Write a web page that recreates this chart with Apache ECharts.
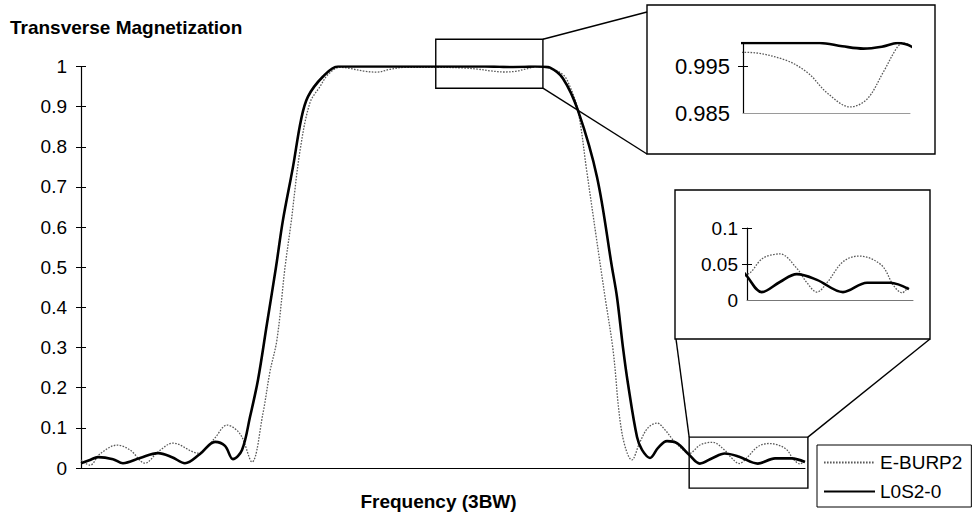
<!DOCTYPE html>
<html>
<head>
<meta charset="utf-8">
<script src="https://cdn.jsdelivr.net/npm/echarts@6/dist/echarts.min.js"></script>
<style>
  html, body { margin: 0; padding: 0; background: #fff; }
  #chart { width: 972px; height: 514px; }
</style>
</head>
<body>
<div id="chart"></div>
<script>
// Frequency axis runs 0..100 across the plotted band (3BW)
const eburp2Freq = [0, 1.24, 2.62, 4.97, 6.77, 8.84, 10.64, 12.71, 15.47, 16.16, 17.54, 18.51, 20.17, 21.27, 22.24, 23.62, 25.14, 26.10, 27.07, 28.18, 29.01, 30.25, 31.63, 33.01, 34.12, 35.77, 37.15, 39.23, 40.88, 42.68, 44.75, 49.21, 52.57, 54.70, 56.46, 58.51, 60.0, 61.42, 62.67, 63.19, 64.36, 66.57, 67.54, 68.65, 69.89, 71.13, 72.38, 73.48, 74.72, 76.10, 77.21, 78.31, 79.56, 80.66, 81.77, 82.87, 83.98, 85.57, 87.25, 88.92, 89.92, 90.91, 91.90, 93.48, 95.0, 96.16, 97.45, 98.44, 99.32, 100];
const eburp2Mag = [0.02, 0.007, 0.035, 0.057, 0.045, 0.012, 0.04, 0.062, 0.04, 0.037, 0.055, 0.075, 0.107, 0.098, 0.077, 0.015, 0.137, 0.24, 0.32, 0.5, 0.61, 0.79, 0.91, 0.95, 0.98, 0.998, 0.995, 0.988, 0.986, 0.993, 0.998, 0.998, 0.9965, 0.9937, 0.9893, 0.9863, 0.988, 0.9937, 0.9991, 1.0, 0.998, 0.98, 0.95, 0.89, 0.735, 0.58, 0.426, 0.295, 0.087, 0.02, 0.065, 0.1, 0.112, 0.095, 0.07, 0.05, 0.036, 0.058, 0.064, 0.044, 0.024, 0.011, 0.024, 0.053, 0.061, 0.058, 0.046, 0.021, 0.01, 0.02];

const l0s2Freq = [0, 1.24, 2.35, 4.42, 5.80, 8.15, 10.64, 12.57, 14.36, 16.44, 18.51, 19.89, 20.99, 22.24, 23.34, 24.45, 25.69, 26.93, 27.90, 29.28, 30.39, 31.35, 33.43, 35.50, 40, 48.07, 52, 55.80, 57.8, 59.67, 61.3, 62.71, 63.95, 64.78, 66.57, 68.65, 71.27, 73.34, 74.03, 74.86, 75.55, 76.80, 77.49, 78.59, 79.70, 80.94, 82.32, 84.0, 85.47, 87.25, 88.92, 90.91, 93.48, 95.86, 98.14, 100];
const l0s2Mag = [0.012, 0.02, 0.027, 0.022, 0.012, 0.025, 0.037, 0.027, 0.012, 0.035, 0.065, 0.055, 0.022, 0.045, 0.127, 0.22, 0.36, 0.5, 0.618, 0.75, 0.867, 0.925, 0.975, 1.0, 1.0, 1.0, 1.0, 1.0, 0.9993, 0.9988, 0.9992, 1.0, 0.9992, 0.997, 0.97, 0.89, 0.725, 0.5, 0.426, 0.3, 0.21, 0.077, 0.045, 0.025, 0.05, 0.067, 0.062, 0.033, 0.011, 0.025, 0.036, 0.028, 0.011, 0.024, 0.024, 0.015];

// Tick values
const mainYTicks = [0, 0.1, 0.2, 0.3, 0.4, 0.5, 0.6, 0.7, 0.8, 0.9, 1];
const topInsetLabels = [0.985, 0.995];
const topInsetTicks = [0.995];
const bottomInsetLabels = [0, 0.05, 0.1];
const bottomInsetTicks = [0.05, 0.1];

// Magnified regions: [freq from, freq to], [mag from, mag to]
const topWindowFreq = [49.0, 63.8];
const topWindowMag = [0.946, 1.068];
const topInsetMag = [0.985, 1.0];
const bottomWindowFreq = [84.0, 100.4];
const bottomWindowMag = [-0.05, 0.077];
const bottomInsetMag = [0, 0.1];

const FONT = "'Liberation Sans', Arial, sans-serif";
const pairs = (xs, ys) => xs.map((x, i) => [x, ys[i]]);

const dottedStyle = { color: '#5a5a5a', width: 1.3, type: [1.6, 1.4] };
const solidStyle = { color: '#000', width: 2.6, type: 'solid' };

// Each y axis is paired with a tick-only twin so the ticks cross the axis line
function yAxisPair(gridIndex, min, max, labels, ticks, fontSize, margin) {
  return [
    {
      type: 'value', gridIndex, min, max, position: 'left',
      axisLine: { show: true, lineStyle: { color: '#000', width: 1.2 } },
      axisTick: { show: true, inside: false, length: 5, customValues: ticks, lineStyle: { color: '#000', width: 1 } },
      axisLabel: { show: true, customValues: labels, color: '#000', fontFamily: FONT, fontSize, margin },
      splitLine: { show: false }
    },
    {
      type: 'value', gridIndex, min, max, position: 'left', offset: 0,
      axisLine: { show: false },
      axisTick: { show: true, inside: true, length: 5, customValues: ticks, lineStyle: { color: '#000', width: 1 } },
      axisLabel: { show: false },
      splitLine: { show: false }
    }
  ];
}

function xAxis(gridIndex, min, max, color) {
  return {
    type: 'value', gridIndex, min, max,
    axisLine: { show: true, onZero: false, lineStyle: { color, width: 1 } },
    axisTick: { show: false },
    axisLabel: { show: false },
    splitLine: { show: false }
  };
}

function lineSeries(name, data, xi, yi, style, z) {
  return {
    name, type: 'line', data, xAxisIndex: xi, yAxisIndex: yi,
    showSymbol: false, symbol: 'none', smooth: 0.35,
    lineStyle: style, itemStyle: { color: style.color },
    z, silent: true, animation: false
  };
}

const chart = echarts.init(document.getElementById('chart'), null, { renderer: 'svg' });

chart.setOption({
  animation: false,
  backgroundColor: '#fff',
  grid: [
    { left: 81, top: 66.5, width: 724, height: 401.5 },
    { left: 743, top: 43, width: 167, height: 70 },
    { left: 747, top: 228, width: 166, height: 72 }
  ],
  xAxis: [
    xAxis(0, 0, 100, '#000'),
    xAxis(1, topWindowFreq[0], topWindowFreq[1], '#9a9a9a'),
    xAxis(2, bottomWindowFreq[0], bottomWindowFreq[1], '#777')
  ],
  yAxis: [
    ...yAxisPair(0, 0, 1, mainYTicks, mainYTicks, 19, 14),
    ...yAxisPair(1, topInsetMag[0], topInsetMag[1], topInsetLabels, topInsetTicks, 22, 13),
    ...yAxisPair(2, bottomInsetMag[0], bottomInsetMag[1], bottomInsetLabels, bottomInsetTicks, 19, 9)
  ],
  legend: {
    data: ['E-BURP2', 'L0S2-0'],
    orient: 'vertical',
    left: 817, top: 445,
    itemWidth: 51, itemHeight: 20, itemGap: 10,
    padding: [8, 9, 6, 6],
    borderColor: '#000', borderWidth: 1,
    itemStyle: { opacity: 0 },
    textStyle: { color: '#000', fontFamily: FONT, fontSize: 19 }
  },
  series: [
    lineSeries('E-BURP2', pairs(eburp2Freq, eburp2Mag), 0, 0, dottedStyle, 2),
    lineSeries('L0S2-0', pairs(l0s2Freq, l0s2Mag), 0, 0, solidStyle, 3),
    lineSeries('E-BURP2', pairs(eburp2Freq, eburp2Mag), 1, 2, dottedStyle, 2),
    lineSeries('L0S2-0', pairs(l0s2Freq, l0s2Mag), 1, 2, solidStyle, 3),
    lineSeries('E-BURP2', pairs(eburp2Freq, eburp2Mag), 2, 4, dottedStyle, 2),
    lineSeries('L0S2-0', pairs(l0s2Freq, l0s2Mag), 2, 4, solidStyle, 3)
  ]
});

// Magnifier outlines on the main plot and their callout boxes
const px = (f, m) => chart.convertToPixel({ gridIndex: 0 }, [f, m]);
const topA = px(topWindowFreq[0], topWindowMag[1]);
const topB = px(topWindowFreq[1], topWindowMag[0]);
const botA = px(bottomWindowFreq[0], bottomWindowMag[1]);
const botB = px(bottomWindowFreq[1], bottomWindowMag[0]);

const topCallout = { x: 647, y: 5, width: 288, height: 149 };
const botCallout = { x: 675, y: 190, width: 255, height: 149 };
const frame = { stroke: '#000', lineWidth: 1.4, fill: 'none' };
const link = { stroke: '#000', lineWidth: 1.4 };

chart.setOption({
  graphic: [
    { type: 'rect', shape: { x: topA[0], y: topA[1], width: topB[0] - topA[0], height: topB[1] - topA[1] }, style: frame, z: 10, silent: true },
    { type: 'rect', shape: { x: botA[0], y: botA[1], width: botB[0] - botA[0], height: botB[1] - botA[1] }, style: frame, z: 10, silent: true },
    { type: 'rect', shape: topCallout, style: frame, z: 10, silent: true },
    { type: 'rect', shape: botCallout, style: frame, z: 10, silent: true },
    { type: 'line', shape: { x1: topB[0], y1: topA[1], x2: topCallout.x, y2: topCallout.y + 7 }, style: link, z: 10, silent: true },
    { type: 'line', shape: { x1: topB[0], y1: topB[1], x2: topCallout.x, y2: topCallout.y + topCallout.height }, style: link, z: 10, silent: true },
    { type: 'line', shape: { x1: botA[0], y1: botA[1], x2: botCallout.x + 1, y2: botCallout.y + botCallout.height }, style: link, z: 10, silent: true },
    { type: 'line', shape: { x1: botB[0], y1: botA[1], x2: botCallout.x + botCallout.width, y2: botCallout.y + botCallout.height }, style: link, z: 10, silent: true },
    { type: 'text', x: 10, y: 27.5, style: { text: 'Transverse Magnetization', fill: '#000', font: 'bold 19px ' + FONT, textAlign: 'left', textVerticalAlign: 'middle' }, z: 10, silent: true },
    { type: 'text', x: 438.5, y: 501.5, style: { text: 'Frequency (3BW)', fill: '#000', font: 'bold 19px ' + FONT, textAlign: 'center', textVerticalAlign: 'middle' }, z: 10, silent: true }
  ]
});
</script>
</body>
</html>
